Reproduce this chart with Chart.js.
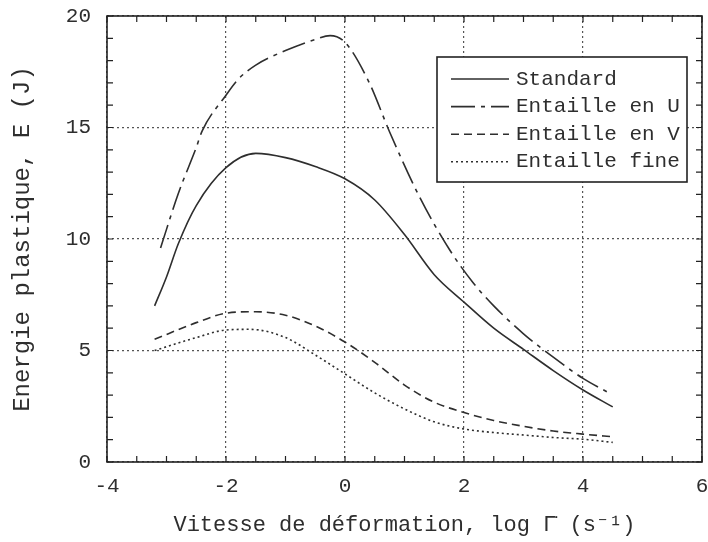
<!DOCTYPE html>
<html lang="fr">
<head>
    <meta charset="UTF-8">
    <title>Energie plastique</title>
    <script src="https://cdn.jsdelivr.net/npm/chart.js"></script>
    <style>
        html, body {
            margin: 0;
            padding: 0;
            background: #ffffff;
        }
        #wrap {
            width: 708px;
            height: 542px;
        }
    </style>
</head>
<body>
    <div id="wrap"><canvas id="energyChart" width="708" height="542"></canvas></div>
    <script>
        // Log strain rate (x) and plastic energy in J (y) for each specimen type
        const xStandard = [-3.2, -3, -2.8, -2.5, -2, -1.5, -1, -0.5, 0, 0.5, 1, 1.5, 2, 2.5, 3, 3.5, 4, 4.5];
        const yStandard = [7.0, 8.3, 9.8, 11.5, 13.2, 13.84, 13.65, 13.25, 12.7, 11.75, 10.2, 8.4, 7.17, 6.0, 5.05, 4.1, 3.23, 2.47];

        const xNotchU = [-3.1, -2.8, -2.5, -2.4, -2, -1.8, -1.5, -1, -0.5, -0.25, 0, 0.4, 0.75, 1.25, 1.75, 2.15, 2.5, 3, 3.5, 4, 4.4];
        const yNotchU = [9.6, 12.05, 14.1, 14.85, 16.45, 17.15, 17.8, 18.45, 18.95, 19.12, 18.82, 17.05, 14.8, 11.9, 9.55, 8.05, 7.0, 5.75, 4.7, 3.75, 3.15];

        const xNotchV = [-3.2, -2.5, -2, -1.5, -1, -0.5, 0, 0.5, 1, 1.5, 2, 2.5, 3, 3.5, 4, 4.5];
        const yNotchV = [5.5, 6.25, 6.67, 6.74, 6.58, 6.1, 5.38, 4.47, 3.45, 2.68, 2.22, 1.86, 1.6, 1.39, 1.25, 1.13];

        const xNotchFine = [-3.2, -2.5, -2, -1.6, -1, -0.5, 0, 0.5, 1, 1.5, 2, 2.5, 3, 3.5, 4, 4.5];
        const yNotchFine = [5.0, 5.58, 5.92, 5.95, 5.58, 4.8, 3.95, 3.1, 2.38, 1.8, 1.48, 1.32, 1.21, 1.1, 1.02, 0.88];

        const seriesLabels = ['Standard', 'Entaille en U', 'Entaille en V', 'Entaille fine'];
        const seriesDashes = [[], [24, 6, 4, 6], [8, 5], [2, 3]];

        const xTickValues = [-4, -2, 0, 2, 4, 6];
        const yTickValues = [0, 5, 10, 15, 20];

        const ink = '#2e2e2e';
        const monoFont = "'Liberation Mono', 'Courier New', monospace";

        function toPoints(xs, ys) {
            return xs.map((x, i) => ({ x: x, y: ys[i] }));
        }

        const seriesData = [
            toPoints(xStandard, yStandard),
            toPoints(xNotchU, yNotchU),
            toPoints(xNotchV, yNotchV),
            toPoints(xNotchFine, yNotchFine)
        ];

        const datasets = seriesData.map((data, i) => ({
            label: seriesLabels[i],
            data: data,
            borderColor: ink,
            borderWidth: 1.6,
            borderDash: seriesDashes[i],
            pointRadius: 0,
            fill: false,
            cubicInterpolationMode: 'monotone'
        }));

        // Frame with inward minor ticks on all four sides
        const framePlugin = {
            id: 'frame',
            afterDatasetsDraw(chart) {
                const { ctx, chartArea: a, scales } = chart;
                ctx.save();
                ctx.strokeStyle = '#222222';
                ctx.lineWidth = 1.6;
                ctx.setLineDash([]);
                ctx.strokeRect(a.left, a.top, a.right - a.left, a.bottom - a.top);

                ctx.lineWidth = 1.2;
                ctx.beginPath();
                for (let v = -4; v <= 6.001; v += 0.5) {
                    const px = scales.x.getPixelForValue(v);
                    ctx.moveTo(px, a.bottom);
                    ctx.lineTo(px, a.bottom - 6);
                    ctx.moveTo(px, a.top);
                    ctx.lineTo(px, a.top + 6);
                }
                for (let v = 0; v <= 20; v += 1) {
                    const py = scales.y.getPixelForValue(v);
                    ctx.moveTo(a.left, py);
                    ctx.lineTo(a.left + 6, py);
                    ctx.moveTo(a.right, py);
                    ctx.lineTo(a.right - 6, py);
                }
                ctx.stroke();
                ctx.restore();
            }
        };

        // Boxed legend in the upper right, line sample left of each label
        const boxLegendPlugin = {
            id: 'boxLegend',
            afterDatasetsDraw(chart) {
                const { ctx, chartArea: a } = chart;
                const boxRight = a.right - 15;
                const boxLeft = boxRight - 250;
                const boxTop = a.top + 41;
                const boxHeight = 125;
                const rowGap = 27.6;
                ctx.save();
                ctx.fillStyle = '#ffffff';
                ctx.fillRect(boxLeft, boxTop, boxRight - boxLeft, boxHeight);
                ctx.strokeStyle = '#222222';
                ctx.lineWidth = 1.6;
                ctx.setLineDash([]);
                ctx.strokeRect(boxLeft, boxTop, boxRight - boxLeft, boxHeight);

                ctx.font = '21px ' + monoFont;
                ctx.textBaseline = 'middle';
                ctx.textAlign = 'left';
                chart.data.datasets.forEach((ds, i) => {
                    const y = boxTop + 22 + i * rowGap;
                    ctx.strokeStyle = ink;
                    ctx.lineWidth = 1.6;
                    ctx.setLineDash(ds.borderDash);
                    ctx.beginPath();
                    ctx.moveTo(boxLeft + 14, y);
                    ctx.lineTo(boxLeft + 72, y);
                    ctx.stroke();
                    ctx.setLineDash([]);
                    ctx.fillStyle = ink;
                    ctx.fillText(ds.label, boxLeft + 79, y);
                });
                ctx.restore();
            }
        };

        new Chart(document.getElementById('energyChart'), {
            type: 'line',
            data: { datasets: datasets },
            options: {
                responsive: false,
                animation: false,
                events: [],
                layout: { padding: { top: 16, right: 6, left: 0, bottom: 0 } },
                plugins: {
                    legend: { display: false },
                    tooltip: { enabled: false }
                },
                scales: {
                    x: {
                        type: 'linear',
                        min: -4,
                        max: 6,
                        afterBuildTicks: scale => {
                            scale.ticks = xTickValues.map(v => ({ value: v }));
                        },
                        afterFit: scale => {
                            scale.height = 80;
                            // let the end labels hang past the plot edges
                            scale.paddingLeft = 0;
                            scale.paddingRight = 0;
                        },
                        ticks: {
                            color: ink,
                            font: { family: monoFont, size: 21 },
                            padding: 12,
                            maxRotation: 0,
                            callback: v => String(v)
                        },
                        grid: {
                            color: '#555555',
                            lineWidth: 1.2,
                            drawTicks: false
                        },
                        border: { display: false, dash: [2, 3] },
                        title: {
                            display: true,
                            text: 'Vitesse de déformation, log Γ̇ (s⁻¹)',
                            color: ink,
                            font: { family: monoFont, size: 22 },
                            padding: { top: 0, bottom: 4 }
                        }
                    },
                    y: {
                        type: 'linear',
                        min: 0,
                        max: 20,
                        afterBuildTicks: scale => {
                            scale.ticks = yTickValues.map(v => ({ value: v }));
                        },
                        afterFit: scale => {
                            scale.width = 107;
                            scale.paddingTop = 0;
                            scale.paddingBottom = 0;
                        },
                        ticks: {
                            color: ink,
                            font: { family: monoFont, size: 21 },
                            padding: 16,
                            callback: v => String(v)
                        },
                        grid: {
                            color: '#555555',
                            lineWidth: 1.2,
                            drawTicks: false
                        },
                        border: { display: false, dash: [2, 3] },
                        title: {
                            display: true,
                            text: 'Energie plastique, E (J)',
                            color: ink,
                            font: { family: monoFont, size: 24 },
                            padding: { top: 8, bottom: 0 }
                        }
                    }
                }
            },
            plugins: [framePlugin, boxLegendPlugin]
        });
    </script>
</body>
</html>
